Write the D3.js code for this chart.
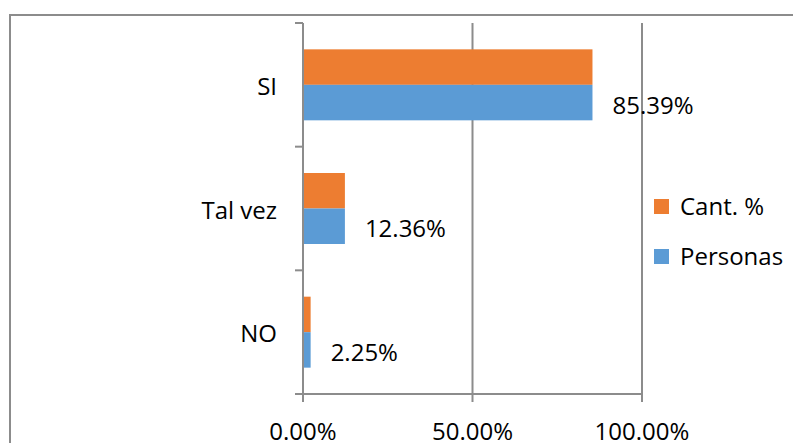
<!DOCTYPE html>
<html>
<head>
<meta charset="utf-8">
<script src="https://cdn.jsdelivr.net/npm/d3@7"></script>
<style>
  html, body { margin: 0; padding: 0; background: #fff; }
  svg { display: block; }
  text { font-family: "Open Sans", "Noto Sans", sans-serif; fill: #000; }
</style>
</head>
<body>
<svg id="chart" width="793" height="443"></svg>
<script>
const categories = ["SI", "Tal vez", "NO"];
const seriesNames = ["Cant. %", "Personas"];
const cantPct = [85.39, 12.36, 2.25];
const personas = [85.39, 12.36, 2.25];
const xTicks = [0, 50, 100];
const labelValues = ["85.39%", "12.36%", "2.25%"];

(function () {
const colors = { "Cant. %": "#ED7D31", "Personas": "#5B9BD5" };
const gray = "#8c8c8c";

const svg = d3.select("#chart");

// outer chart border (extends past the window edges)
svg.append("rect")
  .attr("x", 10).attr("y", 15)
  .attr("width", 800).attr("height", 450)
  .attr("fill", "none").attr("stroke", gray).attr("stroke-width", 2);

const pLeft = 303, pRight = 642, pTop = 23, pBottom = 394;

const x = d3.scaleLinear().domain([0, 100]).range([pLeft, pRight]);
const y = d3.scaleBand().domain(categories).range([pTop, pBottom])
  .paddingInner(0.426).paddingOuter(0.213);
const ySub = d3.scaleBand().domain(seriesNames).range([0, y.bandwidth()]);
const step = y.step();

// gridlines
svg.append("g").selectAll("line")
  .data(xTicks.filter(d => d > 0))
  .join("line")
  .attr("x1", d => x(d)).attr("x2", d => x(d))
  .attr("y1", pTop).attr("y2", pBottom)
  .attr("stroke", gray).attr("stroke-width", 2);

// bars
const rows = categories.map((c, i) => ({ cat: c, "Cant. %": cantPct[i], "Personas": personas[i], label: labelValues[i] }));

const groups = svg.append("g").selectAll("g")
  .data(rows).join("g")
  .attr("transform", d => `translate(0,${y(d.cat)})`);

groups.selectAll("rect")
  .data(d => seriesNames.map(s => ({ s, v: d[s] })))
  .join("rect")
  .attr("x", x(0))
  .attr("y", d => ySub(d.s))
  .attr("width", d => x(d.v) - x(0))
  .attr("height", ySub.bandwidth())
  .attr("fill", d => colors[d.s]);

// data labels (Personas series)
groups.append("text")
  .attr("x", d => x(d["Personas"]) + 20)
  .attr("y", d => ySub("Personas") + ySub.bandwidth() / 2 + 11)
  .attr("font-size", 24)
  .text(d => d.label);

// y axis
const yAxisG = svg.append("g");
yAxisG.append("line")
  .attr("x1", pLeft).attr("x2", pLeft).attr("y1", pTop).attr("y2", pBottom + 8)
  .attr("stroke", gray).attr("stroke-width", 2);
const boundaries = categories.map(c => y(c) - step * y.paddingInner() / 2).concat([pBottom]);
yAxisG.selectAll("line.tick")
  .data(boundaries).join("line").attr("class", "tick")
  .attr("x1", pLeft - 8).attr("x2", pLeft)
  .attr("y1", d => d).attr("y2", d => d)
  .attr("stroke", gray).attr("stroke-width", 2);
yAxisG.selectAll("text")
  .data(categories).join("text")
  .attr("x", 277)
  .attr("y", d => y(d) + y.bandwidth() / 2 + 10)
  .attr("text-anchor", "end")
  .attr("font-size", 24)
  .text(d => d);

// x axis
const xAxisG = svg.append("g");
xAxisG.append("line")
  .attr("x1", pLeft - 8).attr("x2", pRight).attr("y1", pBottom).attr("y2", pBottom)
  .attr("stroke", gray).attr("stroke-width", 2);
xAxisG.selectAll("line.tick")
  .data(xTicks).join("line").attr("class", "tick")
  .attr("x1", d => x(d)).attr("x2", d => x(d))
  .attr("y1", pBottom).attr("y2", pBottom + 8)
  .attr("stroke", gray).attr("stroke-width", 2);
xAxisG.selectAll("text")
  .data(xTicks).join("text")
  .attr("x", d => x(d))
  .attr("y", 440)
  .attr("text-anchor", "middle")
  .attr("font-size", 24)
  .text(d => d3.format(".2f")(d) + "%");

// legend
const legend = svg.append("g").selectAll("g")
  .data(seriesNames).join("g")
  .attr("transform", (d, i) => `translate(654,${199 + i * 50})`);
legend.append("rect")
  .attr("width", 15).attr("height", 15)
  .attr("fill", d => colors[d]);
legend.append("text")
  .attr("x", 26).attr("y", 16)
  .attr("font-size", 24)
  .text(d => d);
})();
</script>
</body>
</html>
